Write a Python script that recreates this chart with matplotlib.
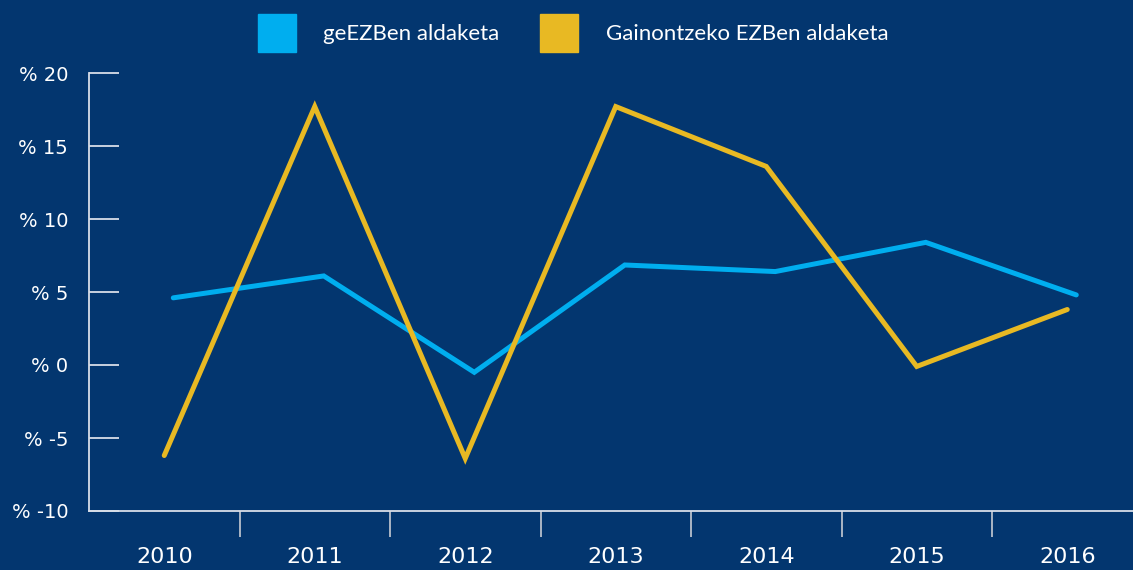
import matplotlib.pyplot as plt
from matplotlib.patches import Rectangle
import numpy as np

# Data
years = ['2010', '2011', '2012', '2013', '2014', '2015', '2016']
geezb = [4.6, 6.1, -0.5, 6.85, 6.4, 8.4, 4.8]
gainontzeko = [-6.2, 17.7, -6.4, 17.7, 13.6, -0.1, 3.8]
yticks = [-10, -5, 0, 5, 10, 15, 20]

bg = '#03366f'
blue = '#00aeef'
yellow = '#e8b923'
axis_col = '#d8dee8'

fig = plt.figure(figsize=(11.33, 5.70), dpi=100, facecolor=bg)
ax = fig.add_axes([89 / 1133, 59 / 570, 7 * 150.5 / 1133, 438 / 570])
ax.set_facecolor(bg)

x = np.arange(len(years))
# the blue series sits slightly right of the category centres in the original
ax.plot(x + 0.06, geezb, color=blue, lw=3.6, solid_capstyle='round', solid_joinstyle='miter')
ax.plot(x, gainontzeko, color=yellow, lw=3.6, solid_capstyle='round', solid_joinstyle='miter')

ax.set_xlim(-0.5, len(years) - 0.5)
ax.set_ylim(-10, 20)

for s in ['top', 'right']:
    ax.spines[s].set_visible(False)
ax.spines['left'].set_color(axis_col)
ax.spines['bottom'].set_color(axis_col)
ax.spines['left'].set_linewidth(1.3)
ax.spines['bottom'].set_linewidth(1.3)

ax.set_yticks(yticks)
ax.set_yticklabels([f'% {v}' for v in yticks])
ax.tick_params(axis='y', direction='in', length=21.5, width=1.3, color=axis_col,
               labelcolor='white', labelsize=14, pad=15)

ax.set_xticks(x)
ax.set_xticklabels(years)
ax.set_xticks(x[:-1] + 0.5, minor=True)
ax.tick_params(axis='x', which='major', length=0, labelcolor='white', labelsize=16, pad=26)
ax.tick_params(axis='x', which='minor', direction='out', length=19, width=1.3, color='#b8c0cc')

# legend drawn as squares and text on top of the figure
fig.patches.append(Rectangle((258 / 1133, 1 - 52 / 570), 38 / 1133, 38 / 570,
                             transform=fig.transFigure, color=blue))
fig.text(323 / 1133, 1 - 34 / 570, 'geEZBen aldaketa', color='white', fontsize=16,
         family='Lato', va='center', ha='left')
fig.patches.append(Rectangle((540 / 1133, 1 - 52 / 570), 38 / 1133, 38 / 570,
                             transform=fig.transFigure, color=yellow))
fig.text(606 / 1133, 1 - 34 / 570, 'Gainontzeko EZBen aldaketa', color='white', fontsize=16,
         family='Lato', va='center', ha='left')

fig.savefig('out.png', dpi=100, facecolor=bg)
